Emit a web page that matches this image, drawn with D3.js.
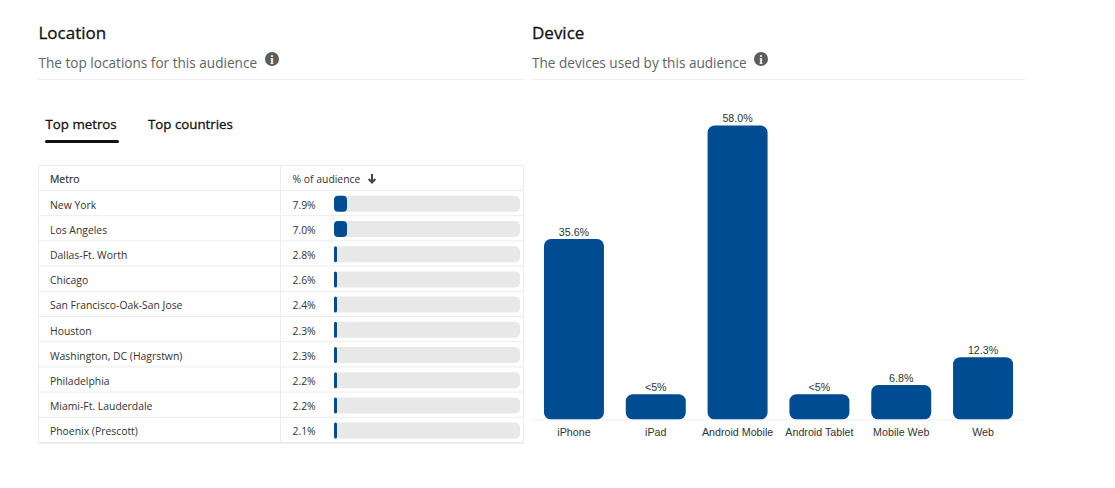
<!DOCTYPE html>
<html lang="en">
<head>
<meta charset="UTF-8">
<title>Location and Device</title>
<script src="https://d3js.org/d3.v7.min.js"></script>
<style>
    html, body { margin: 0; padding: 0; background: #fff; overflow: hidden; }
    svg { display: block; }
    text { font-family: "Open Sans", "Noto Sans", sans-serif; }
    .title { font-size: 17px; fill: #111; stroke: #111; stroke-width: 0.3px; }
    .sub { font-size: 13.6px; fill: #5f6368; }
    .tab { font-size: 13.3px; fill: #111; stroke: #111; stroke-width: 0.3px; }
    .cell { font-size: 10.4px; fill: #333; }
    .chart-text { font-family: "Liberation Sans", Arial, sans-serif; font-size: 10.7px; fill: #333; }
</style>
</head>
<body>
<svg id="page" width="1115" height="488"></svg>
<script>
const metros = ["New York", "Los Angeles", "Dallas-Ft. Worth", "Chicago", "San Francisco-Oak-San Jose",
    "Houston", "Washington, DC (Hagrstwn)", "Philadelphia", "Miami-Ft. Lauderdale", "Phoenix (Prescott)"];
const metroShare = [7.9, 7.0, 2.8, 2.6, 2.4, 2.3, 2.3, 2.2, 2.2, 2.1];

const devices = ["iPhone", "iPad", "Android Mobile", "Android Tablet", "Mobile Web", "Web"];
const deviceShare = [35.6, 5, 58.0, 5, 6.8, 12.3];
const deviceLabels = ["35.6%", "<5%", "58.0%", "<5%", "6.8%", "12.3%"];

const blue = "#004c92", line = "#ececec", track = "#e8e8e8";
const svg = d3.select("#page");

function header(x, title, sub, infoX, ruleEnd) {
    svg.append("text").attr("class", "title").attr("x", x).attr("y", 39).text(title);
    svg.append("text").attr("class", "sub").attr("x", x).attr("y", 68).text(sub);
    svg.append("circle").attr("cx", infoX).attr("cy", 59).attr("r", 7).attr("fill", "#5c5c5c");
    svg.append("text").attr("x", infoX).attr("y", 63.5).attr("text-anchor", "middle")
        .style("font-family", "'Liberation Serif', serif")
        .style("font-size", "12px").style("font-weight", "700").attr("fill", "#fff").text("i");
    svg.append("line").attr("x1", x).attr("x2", ruleEnd).attr("y1", 79.5).attr("y2", 79.5).attr("stroke", line);
}
header(38.5, "Location", "The top locations for this audience", 272, 524);
header(532, "Device", "The devices used by this audience", 761, 1025);

// tabs
svg.append("text").attr("class", "tab").attr("x", 45.5).attr("y", 129).text("Top metros");
svg.append("text").attr("class", "tab").attr("x", 148).attr("y", 129).text("Top countries");
svg.append("rect").attr("x", 45).attr("y", 140).attr("width", 74).attr("height", 3).attr("rx", 1.5).attr("fill", "#111");

// table
const tableLeft = 38.5, tableRight = 523.5, divider = 280.5, tableTop = 165.5, headBottom = 190.5, tableBottom = 442.5;
const rowY = d3.scaleBand().domain(metros).range([headBottom, tableBottom]);
// fill width comes in two steps in the reference
const fillW = d3.scaleThreshold().domain([5]).range([3, 13]);

const table = svg.append("g");
table.append("rect").attr("x", tableLeft).attr("y", tableTop).attr("width", tableRight - tableLeft).attr("height", tableBottom - tableTop)
    .attr("fill", "none").attr("stroke", line);
table.append("line").attr("x1", divider).attr("x2", divider).attr("y1", tableTop).attr("y2", tableBottom).attr("stroke", line);
table.append("line").attr("x1", tableLeft).attr("x2", tableRight).attr("y1", tableBottom + 1).attr("y2", tableBottom + 1).attr("stroke", line);
table.append("line").attr("x1", tableLeft).attr("x2", tableRight).attr("y1", headBottom).attr("y2", headBottom).attr("stroke", line);

table.append("text").attr("class", "cell").attr("x", 50).attr("y", 182.5).style("stroke", "#333").style("stroke-width", "0.2px").text("Metro");
table.append("text").attr("class", "cell").attr("x", 292.5).attr("y", 182.5).text("% of audience");
// sort arrow
table.append("path").attr("d", "M372 174V182.5M368.6 179L372 182.5L375.4 179")
    .attr("fill", "none").attr("stroke", "#444").attr("stroke-width", 2);

const rows = table.selectAll(".row").data(metros).join("g").attr("class", "row")
    .attr("transform", d => `translate(0,${rowY(d)})`);
rows.append("line").attr("x1", tableLeft).attr("x2", tableRight).attr("y1", rowY.bandwidth()).attr("y2", rowY.bandwidth()).attr("stroke", line);
rows.append("text").attr("class", "cell").attr("x", 50).attr("y", 18).text(d => d);
rows.append("text").attr("class", "cell").attr("x", 292.5).attr("y", 18)
    .text((d, i) => metroShare[i].toFixed(1) + "%");
rows.append("rect").attr("x", 334).attr("y", 5.3).attr("width", 186).attr("height", 16).attr("rx", 5).attr("fill", track);
rows.append("rect").attr("x", 334).attr("y", 5.3).attr("height", 16)
    .attr("width", (d, i) => fillW(metroShare[i])).attr("rx", (d, i) => Math.min(4, fillW(metroShare[i]) / 2)).attr("fill", blue);

// device bars
const x = d3.scaleBand().domain(devices).range([533, 1024]).paddingInner(0.267).paddingOuter(0.134);
const y = d3.scaleLinear().domain([0, 58]).range([419.5, 125.5]);

const bars = svg.append("g");
bars.selectAll("path").data(devices).join("path")
    .attr("fill", blue)
    .attr("d", (d, i) => {
        const p = d3.path(), r = 7, x0 = x(d), x1 = x0 + x.bandwidth(), y0 = y(deviceShare[i]), y1 = y(0);
        p.moveTo(x0 + r, y0);
        p.arcTo(x1, y0, x1, y0 + r, r);
        p.arcTo(x1, y1, x1 - r, y1, r);
        p.arcTo(x0, y1, x0, y1 - r, r);
        p.arcTo(x0, y0, x0 + r, y0, r);
        p.closePath();
        return p.toString();
    });
bars.selectAll(".val").data(devices).join("text").attr("class", "val chart-text")
    .attr("x", d => x(d) + x.bandwidth() / 2)
    .attr("y", (d, i) => y(deviceShare[i]) - 3.5)
    .attr("text-anchor", "middle")
    .text((d, i) => deviceLabels[i]);

const axis = svg.append("g").attr("transform", "translate(0,419.5)")
    .call(d3.axisBottom(x).tickSize(0).tickPadding(9));
axis.select(".domain").attr("stroke", "#f0f0f0");
axis.selectAll("text").attr("class", "chart-text").attr("fill", null).style("font-size", "10.7px");
</script>
</body>
</html>
